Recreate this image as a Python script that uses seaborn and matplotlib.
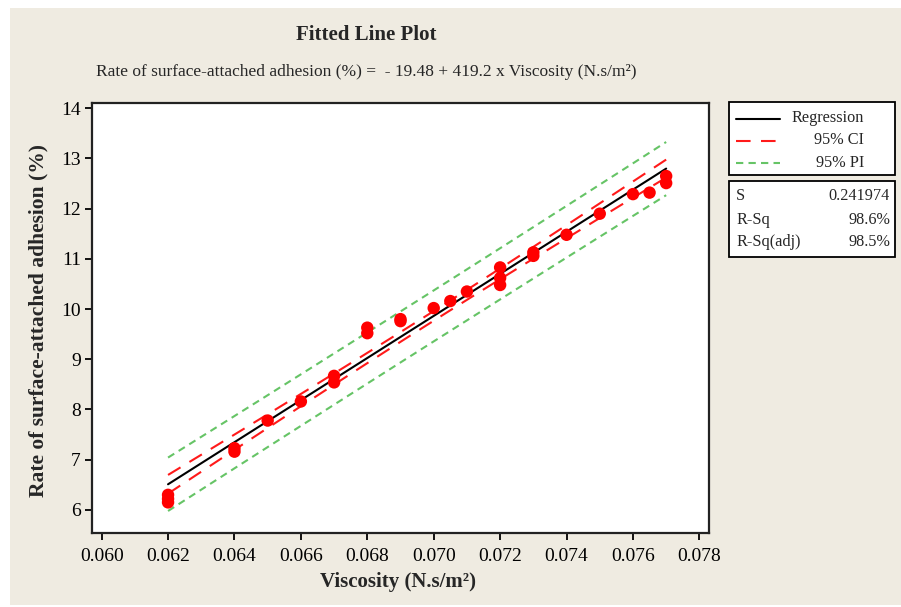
import numpy as np
import pandas as pd
import seaborn as sns
import matplotlib.pyplot as plt
from matplotlib.lines import Line2D
from matplotlib.patches import Rectangle

viscosity = [0.062, 0.062, 0.062, 0.064, 0.064, 0.065, 0.066, 0.067, 0.067,
             0.068, 0.068, 0.069, 0.069, 0.070, 0.0705, 0.071, 0.072, 0.072,
             0.072, 0.073, 0.073, 0.074, 0.075, 0.076, 0.0765, 0.077, 0.077]
adhesion = [6.30, 6.22, 6.15, 7.23, 7.16, 7.78, 8.16, 8.67, 8.54,
            9.63, 9.52, 9.80, 9.76, 10.02, 10.16, 10.35, 10.83, 10.62,
            10.48, 11.13, 11.06, 11.48, 11.90, 12.29, 12.32, 12.65, 12.51]

# Fit summary printed on the chart
intercept = -19.48
slope = 419.2
s_value = 0.241974
r_sq = "98.6%"
r_sq_adj = "98.5%"
t_crit = 2.0595  # t(0.975, n-2)

x_ticks = [0.060, 0.062, 0.064, 0.066, 0.068, 0.070, 0.072, 0.074, 0.076, 0.078]
y_ticks = [6, 7, 8, 9, 10, 11, 12, 13, 14]

SERIF = ['Liberation Serif', 'DejaVu Serif']
BG = '#efebe1'
RED = '#ff1a1a'
GREEN = '#66c466'

sns.set_style('ticks')
plt.rcParams['font.family'] = SERIF

# Regression line and confidence / prediction bands
x = np.array(viscosity)
n = len(x)
sxx = ((x - x.mean()) ** 2).sum()
grid = np.linspace(min(viscosity), max(viscosity), 60)
fit = intercept + slope * grid
ci = t_crit * s_value * np.sqrt(1 / n + (grid - x.mean()) ** 2 / sxx)
pi = t_crit * s_value * np.sqrt(1 + 1 / n + (grid - x.mean()) ** 2 / sxx)
bands = pd.DataFrame({'x': grid, 'fit': fit,
                      'ci_lo': fit - ci, 'ci_hi': fit + ci,
                      'pi_lo': fit - pi, 'pi_hi': fit + pi})
points = pd.DataFrame({'viscosity': viscosity, 'adhesion': adhesion})

fig = plt.figure(figsize=(9.01, 6.07), dpi=100)
fig.patch.set_facecolor('white')
fig.patches.append(Rectangle((10 / 901, 2 / 607), 1, (607 - 10) / 607,
                             transform=fig.transFigure, facecolor=BG,
                             edgecolor='none', zorder=-10))

ax = fig.add_axes([92 / 901, 74 / 607, 617 / 901, 430 / 607])
ax.set_facecolor('white')

for col in ['pi_lo', 'pi_hi']:
    sns.lineplot(data=bands, x='x', y=col, ax=ax, color=GREEN, lw=1.5,
                 linestyle=(0, (3.5, 2.5)))
for col in ['ci_lo', 'ci_hi']:
    sns.lineplot(data=bands, x='x', y=col, ax=ax, color=RED, lw=1.5,
                 linestyle=(0, (7, 5)))
sns.lineplot(data=bands, x='x', y='fit', ax=ax, color='black', lw=1.5)
sns.scatterplot(data=points, x='viscosity', y='adhesion', ax=ax,
                color='#ff0000', s=80, edgecolor='none', zorder=5)

ax.set_xlim(0.05971, 0.07829)
ax.set_ylim(5.54, 14.105)
ax.set_xticks(x_ticks)
ax.set_xticklabels([f'{v:.3f}' for v in x_ticks])
ax.set_yticks(y_ticks)
ax.set_yticklabels([str(v) for v in y_ticks])
ax.tick_params(direction='out', length=5, width=1.3, labelsize=14,
               color='black', labelcolor='black')
ax.tick_params(axis='x', pad=6)
ax.tick_params(axis='y', pad=3)
for sp in ax.spines.values():
    sp.set_visible(True)
    sp.set_linewidth(1.6)
    sp.set_color('#222222')

ax.set_xlabel('')
ax.set_ylabel('')
fig.text(398 / 901, 1 - 581.5 / 607, 'Viscosity (N.s/m²)', ha='center',
         va='center', fontsize=15, fontweight='bold')
fig.text(38 / 901, 1 - 321 / 607, 'Rate of surface-attached adhesion (%)',
         ha='center', va='center', rotation=90, fontsize=15.5, fontweight='bold')

fig.text(366 / 901, 1 - 35 / 607, 'Fitted Line Plot', ha='center',
         va='center', fontsize=15, fontweight='bold')
fig.text(366 / 901, 1 - 72.5 / 607,
         'Rate of surface-attached adhesion (%) =  - 19.48 + 419.2 x Viscosity (N.s/m²)',
         ha='center', va='center', fontsize=12.5)

# Legend box
def px(xp, yp):
    return xp / 901, 1 - yp / 607

fig.patches.append(Rectangle(px(729, 175), 166 / 901, 73 / 607,
                             transform=fig.transFigure, facecolor='white',
                             edgecolor='black', lw=1.3))
legend_rows = [('Regression', 'black', '-', 118.5),
               ('95% CI', RED, (0, (7, 5)), 140.5),
               ('95% PI', GREEN, (0, (3.5, 2.5)), 163)]
for label, color, ls, yp in legend_rows:
    x0, y0 = px(736, yp)
    x1, _ = px(780, yp)
    fig.lines.append(Line2D([x0, x1], [y0, y0], transform=fig.transFigure,
                            color=color, lw=1.5, linestyle=ls))
    fig.text(*px(864, yp), label, ha='right', va='center', fontsize=11.7)

# Summary statistics box
fig.patches.append(Rectangle(px(729, 257), 166 / 901, 76 / 607,
                             transform=fig.transFigure, facecolor='white',
                             edgecolor='black', lw=1.3))
stat_rows = [('S', f'{s_value:.6f}', 196), ('R-Sq', r_sq, 220),
             ('R-Sq(adj)', r_sq_adj, 241.5)]
for name, val, yp in stat_rows:
    fig.text(*px(736, yp), name, ha='left', va='center', fontsize=11.7)
    fig.text(*px(890, yp), val, ha='right', va='center', fontsize=11.7)

fig.savefig('out.png', dpi=100)
